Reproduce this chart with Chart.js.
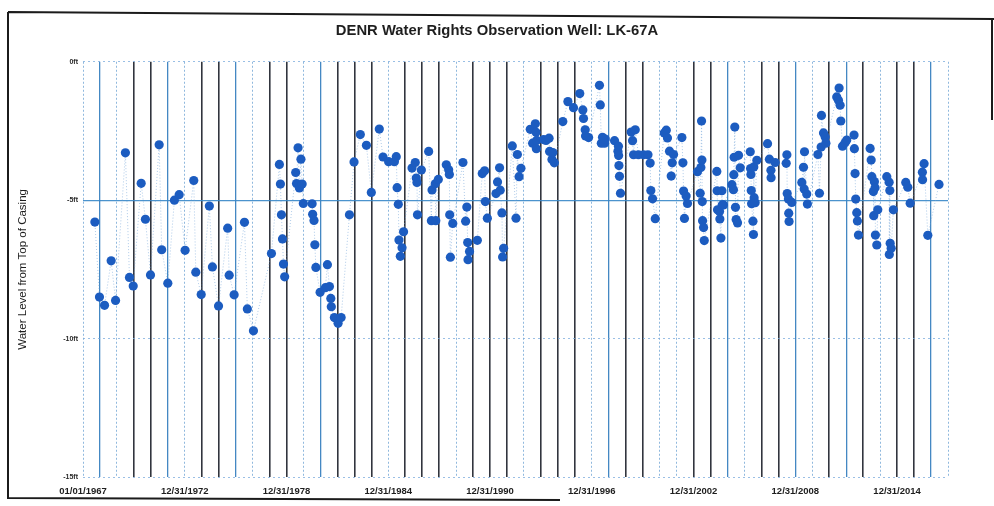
<!DOCTYPE html>
<html>
    <head>
        <title>DENR Water Rights Observation Well: LK-67A</title>
        <meta charset="UTF-8">
        <script src="https://cdn.jsdelivr.net/npm/chart.js@4.4.0/dist/chart.umd.min.js"></script>
        <style>
            body { margin: 0; background: #fff; }
            #wrap { width: 994px; height: 506px; }
        </style>
    </head>
    <body>
        <div id="wrap"><canvas id="wellChart" width="994" height="506"></canvas></div>

        <script>
            // measurement dates (decimal years) and water level below top of casing (ft)
            var sampleYears = [
                1967.70, 1967.97, 1968.27, 1968.66, 1968.92, 1969.50, 1969.74, 1969.96, 1970.43, 1970.68,
                1970.98, 1971.49, 1971.64, 1972.00, 1972.39, 1972.67, 1973.02, 1973.53, 1973.65, 1973.97,
                1974.45, 1974.63, 1974.99, 1975.53, 1975.62, 1975.91, 1976.52, 1976.69, 1977.05, 1978.11,
                1978.58, 1978.64, 1978.70, 1978.76, 1978.82, 1978.89, 1979.54, 1979.59, 1979.68, 1979.76,
                1979.85, 1979.92, 1979.99, 1980.51, 1980.54, 1980.62, 1980.67, 1980.73, 1980.98, 1981.29,
                1981.41, 1981.53, 1981.61, 1981.64, 1981.82, 1982.04, 1982.22, 1982.71, 1982.98, 1983.35,
                1983.71, 1984.00, 1984.47, 1984.69, 1985.02, 1985.36, 1985.47, 1985.52, 1985.59, 1985.63,
                1985.71, 1985.81, 1985.90, 1986.40, 1986.59, 1986.65, 1986.69, 1986.72, 1986.95, 1987.38,
                1987.54, 1987.58, 1987.77, 1987.80, 1987.95, 1988.42, 1988.56, 1988.60, 1988.62, 1988.66,
                1988.80, 1989.40, 1989.56, 1989.63, 1989.68, 1989.70, 1989.79, 1990.25, 1990.54, 1990.68,
                1990.72, 1990.84, 1991.35, 1991.44, 1991.56, 1991.60, 1991.70, 1991.74, 1991.80, 1992.31,
                1992.53, 1992.61, 1992.71, 1992.82, 1993.37, 1993.51, 1993.67, 1993.71, 1993.73, 1993.75,
                1994.16, 1994.30, 1994.48, 1994.51, 1994.65, 1994.70, 1994.79, 1995.29, 1995.59, 1995.92,
                1996.29, 1996.47, 1996.51, 1996.61, 1996.63, 1996.81, 1997.45, 1997.50, 1997.56, 1997.63,
                1997.75, 1997.79, 1998.34, 1998.54, 1998.57, 1998.58, 1998.60, 1998.63, 1998.69, 1999.32,
                1999.40, 1999.46, 1999.56, 1999.75, 2000.05, 2000.31, 2000.44, 2000.48, 2000.58, 2000.74,
                2001.27, 2001.39, 2001.46, 2001.58, 2001.68, 2001.74, 2001.82, 2002.31, 2002.37, 2002.41,
                2002.46, 2002.56, 2002.64, 2003.23, 2003.39, 2003.43, 2003.47, 2003.49, 2003.51, 2003.53,
                2003.59, 2003.63, 2004.37, 2004.39, 2004.41, 2004.53, 2004.55, 2004.61, 2004.67, 2004.69,
                2004.76, 2005.26, 2005.35, 2005.37, 2005.39, 2005.43, 2005.47, 2005.51, 2005.59, 2005.65,
                2005.75, 2006.34, 2006.36, 2006.38, 2006.40, 2006.42, 2006.50, 2006.53, 2006.55, 2006.57,
                2006.63, 2006.73, 2007.36, 2007.47, 2007.56, 2007.57, 2007.81, 2008.46, 2008.50, 2008.52,
                2008.59, 2008.61, 2008.63, 2008.79, 2009.38, 2009.48, 2009.52, 2009.54, 2009.67, 2009.71,
                2010.33, 2010.42, 2010.52, 2010.54, 2010.66, 2010.76, 2010.80, 2011.44, 2011.54, 2011.58,
                2011.64, 2011.68, 2011.78, 2011.93, 2012.03, 2012.46, 2012.48, 2012.52, 2012.56, 2012.62,
                2012.66, 2012.72, 2013.41, 2013.47, 2013.51, 2013.60, 2013.62, 2013.66, 2013.70, 2013.72,
                2013.80, 2013.86, 2014.39, 2014.53, 2014.54, 2014.57, 2014.59, 2014.65, 2014.78, 2015.51,
                2015.63, 2015.77, 2016.49, 2016.50, 2016.59, 2016.81, 2017.47
            ];
            var waterLevels = [
                -5.79, -8.50, -8.80, -7.19, -8.62, -3.29, -7.79, -8.10, -4.39, -5.69,
                -7.70, -3.00, -6.79, -8.00, -5.00, -4.80, -6.81, -4.29, -7.60, -8.41,
                -5.21, -7.41, -8.82, -6.01, -7.71, -8.42, -5.80, -8.93, -9.72, -6.93,
                -3.71, -4.42, -5.53, -6.40, -7.31, -7.77, -4.00, -4.40, -3.11, -4.56,
                -3.52, -4.42, -5.12, -5.13, -5.51, -5.73, -6.61, -7.43, -8.33, -8.16,
                -7.33, -8.12, -8.55, -8.85, -9.24, -9.45, -9.24, -5.53, -3.62, -2.63,
                -3.02, -4.72, -2.43, -3.44, -3.61, -3.61, -3.43, -4.55, -5.15, -6.44,
                -7.03, -6.72, -6.14, -3.84, -3.64, -4.20, -4.36, -5.53, -3.91, -3.24,
                -5.74, -4.63, -4.41, -5.74, -4.25, -3.72, -3.90, -4.07, -5.53, -7.06,
                -5.84, -3.64, -5.76, -5.25, -6.53, -7.15, -6.85, -6.45, -4.04, -3.94,
                -5.05, -5.65, -4.76, -4.34, -3.83, -4.64, -5.46, -7.05, -6.74, -3.04,
                -5.65, -3.35, -4.15, -3.85, -2.44, -2.94, -2.24, -2.55, -3.14, -2.84,
                -2.81, -2.84, -2.76, -3.24, -3.53, -3.28, -3.65, -2.16, -1.44, -1.66,
                -1.15, -1.74, -2.05, -2.46, -2.68, -2.74, -0.85, -1.56, -2.94, -2.73,
                -2.94, -2.79, -2.85, -3.23, -3.05, -3.39, -3.75, -4.14, -4.75, -2.54,
                -2.85, -3.36, -2.46, -3.36, -3.36, -3.36, -3.66, -4.65, -4.95, -5.67,
                -2.57, -2.47, -2.75, -3.23, -4.13, -3.65, -3.35, -2.74, -3.65, -4.67,
                -5.66, -4.85, -5.12, -3.97, -4.75, -3.82, -2.14, -3.55, -5.05, -5.74,
                -5.99, -6.46, -3.96, -4.66, -5.35, -5.41, -5.68, -6.37, -4.66, -5.17,
                -5.17, -4.44, -4.62, -4.08, -3.45, -2.36, -5.26, -5.70, -5.82, -3.38,
                -3.83, -3.25, -3.86, -4.07, -4.65, -5.13, -5.76, -6.24, -3.80, -4.91,
                -5.09, -3.56, -2.96, -3.52, -3.92, -4.19, -3.64, -3.67, -3.36, -4.76,
                -4.96, -5.47, -5.77, -5.08, -4.36, -3.81, -4.60, -3.25, -4.78, -5.14,
                -3.35, -4.75, -3.08, -1.94, -2.57, -2.72, -2.94, -1.27, -1.39, -0.95,
                -1.57, -2.14, -3.05, -2.93, -2.83, -2.65, -3.14, -4.04, -4.96, -5.45,
                -5.75, -6.26, -3.13, -3.55, -4.15, -4.69, -5.56, -4.33, -4.55, -6.26,
                -6.62, -5.35, -4.15, -4.35, -6.96, -4.65, -6.56, -6.74, -5.35, -4.36,
                -4.53, -5.11, -3.99, -4.26, -3.68, -6.27, -4.43
            ];
            var yearRange = [1967, 2018];
            var levelTicks = [0, -5, -10, -15];

            // look of each yearly gridline in the printout: d = dark, b = blue, l = light dotted
            var yearLineStyle = "lbldd" + "blddb" + "lddlb" + "dddld" + "ddldd" + "dlddd" +
                    "lbddl" + "lddbl" + "ddbld" + "bdldd" + "bl";

            function lineKind(ctx) {
                return yearLineStyle.charAt(ctx.index) || 'l';
            }

            function dateLabel(value) {
                if (value === yearRange[0]) {
                    return '01/01/' + value;
                }
                if ((value - yearRange[0]) % 6 === 0) {
                    return '12/31/' + (value - 1);
                }
                return '';
            }

            var points = [];
            for (var i = 0; i < sampleYears.length; i++) {
                points.push({x: sampleYears[i], y: waterLevels[i]});
            }

            // scanned page frame
            var framePlugin = {
                id: 'frame',
                afterDraw: function (chart) {
                    var c = chart.ctx;
                    c.save();
                    c.strokeStyle = '#1b1b1b';
                    c.lineWidth = 2;
                    c.beginPath();
                    c.moveTo(8, 12);
                    c.lineTo(994, 19);
                    c.moveTo(8, 12);
                    c.lineTo(8, 498);
                    c.lineTo(560, 500);
                    c.moveTo(992, 19);
                    c.lineTo(992, 120);
                    c.stroke();
                    c.restore();
                }
            };

            new Chart(document.getElementById('wellChart'), {
                type: 'scatter',
                data: {
                    datasets: [{
                            label: 'LK-67A',
                            data: points,
                            showLine: true,
                            borderColor: 'rgba(110,160,215,0.55)',
                            borderWidth: 1,
                            borderDash: [1, 2],
                            backgroundColor: 'rgb(28,92,192)',
                            pointBackgroundColor: 'rgb(28,92,192)',
                            pointBorderColor: 'rgb(28,92,192)',
                            pointBorderWidth: 0,
                            pointRadius: 4.6
                        }]
                },
                options: {
                    responsive: false,
                    animation: false,
                    layout: {padding: 0},
                    plugins: {
                        legend: {display: false},
                        tooltip: {enabled: false},
                        title: {
                            display: true,
                            text: 'DENR Water Rights Observation Well: LK-67A',
                            color: '#1e1e1e',
                            font: {family: 'Liberation Sans', size: 14.8, weight: 'bold'},
                            padding: {top: 22, bottom: 22}
                        }
                    },
                    scales: {
                        x: {
                            type: 'linear',
                            min: yearRange[0],
                            max: yearRange[1],
                            afterFit: function (scale) {
                                scale.height = 29;
                            },
                            afterBuildTicks: function (scale) {
                                var t = [];
                                for (var y = yearRange[0]; y <= yearRange[1]; y++) {
                                    t.push({value: y});
                                }
                                scale.ticks = t;
                            },
                            border: {
                                display: false,
                                dash: function (ctx) {
                                    return lineKind(ctx) === 'l' ? [2, 2] : [];
                                }
                            },
                            grid: {
                                drawTicks: false,
                                color: function (ctx) {
                                    var k = lineKind(ctx);
                                    if (k === 'd') return 'rgba(32,36,46,0.92)';
                                    if (k === 'b') return 'rgba(35,115,185,0.85)';
                                    return 'rgba(105,160,210,0.75)';
                                },
                                lineWidth: function (ctx) {
                                    var k = lineKind(ctx);
                                    return k === 'd' ? 1.6 : (k === 'b' ? 1.3 : 1);
                                }
                            },
                            ticks: {
                                autoSkip: false,
                                maxRotation: 0,
                                padding: 9,
                                color: '#1e1e1e',
                                font: {family: 'Liberation Sans', size: 9.5, weight: 'bold'},
                                callback: function (value) {
                                    return dateLabel(value);
                                }
                            }
                        },
                        y: {
                            min: levelTicks[levelTicks.length - 1],
                            max: levelTicks[0],
                            afterFit: function (scale) {
                                scale.width = 83;
                            },
                            afterBuildTicks: function (scale) {
                                scale.ticks = levelTicks.slice().reverse().map(function (v) {
                                    return {value: v};
                                });
                            },
                            border: {
                                display: false,
                                dash: function (ctx) {
                                    return ctx.tick && ctx.tick.value === -5 ? [] : [2, 3];
                                }
                            },
                            grid: {
                                drawTicks: false,
                                color: function (ctx) {
                                    return ctx.tick && ctx.tick.value === -5 ? 'rgba(55,135,200,0.9)' : 'rgba(120,170,220,0.75)';
                                },
                                lineWidth: function (ctx) {
                                    return ctx.tick && ctx.tick.value === -5 ? 1.2 : 1;
                                }
                            },
                            ticks: {
                                padding: 5,
                                color: '#2a2a2a',
                                font: {family: 'Liberation Sans', size: 7, weight: 'bold'},
                                callback: function (value) {
                                    return value + 'ft';
                                }
                            },
                            title: {
                                display: true,
                                text: 'Water Level from Top of Casing',
                                color: '#1e1e1e',
                                font: {family: 'Liberation Sans', size: 11.5},
                                padding: {top: 16, bottom: 0}
                            }
                        },
                        // empty right margin so the title centres on the page
                        margin: {
                            position: 'right',
                            display: true,
                            afterFit: function (scale) {
                                scale.width = 46;
                            },
                            grid: {display: false, drawOnChartArea: false},
                            border: {display: false},
                            ticks: {display: false}
                        }
                    }
                },
                plugins: [framePlugin]
            });
        </script>
    </body>
</html>
